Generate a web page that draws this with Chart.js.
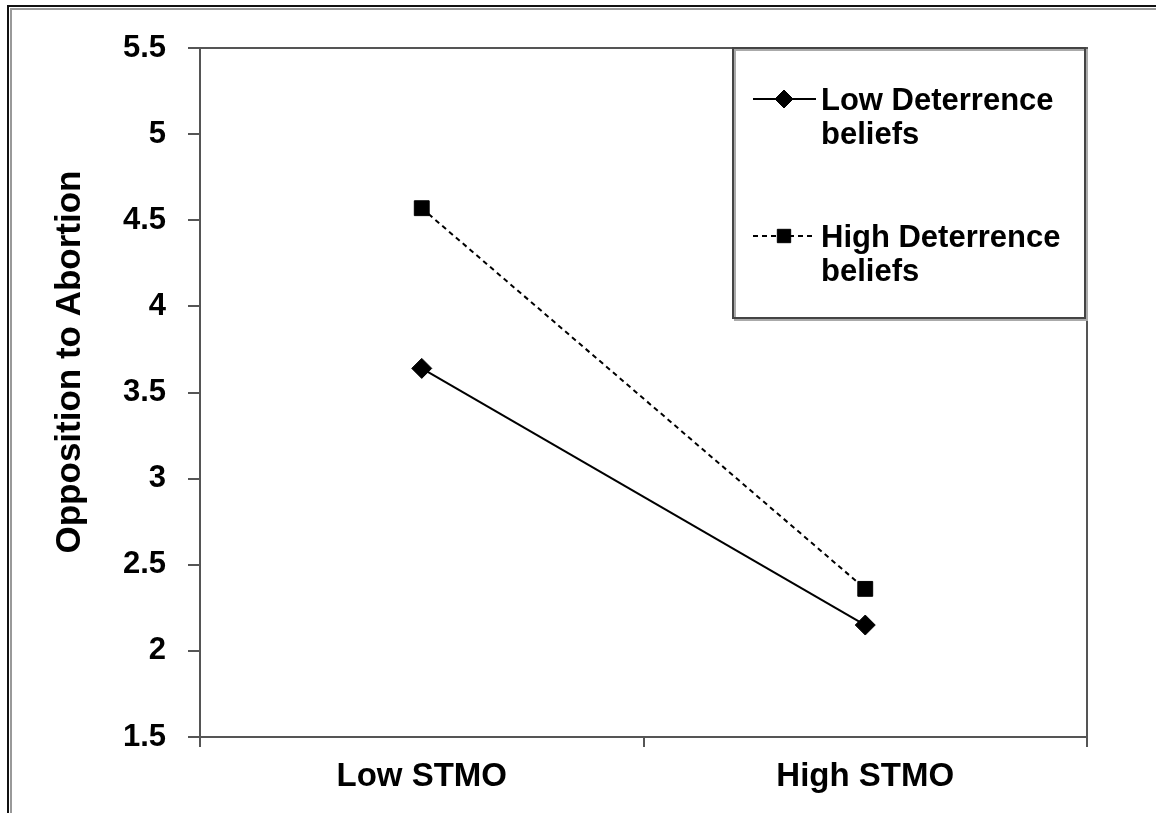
<!DOCTYPE html>
<html>
<head>
<meta charset="utf-8">
<script src="https://cdn.jsdelivr.net/npm/chart.js@4/dist/chart.umd.min.js"></script>
<style>
  html, body { margin: 0; padding: 0; background: #fff; }
  #wrap { width: 1156px; height: 813px; position: relative; }
</style>
</head>
<body>
<div id="wrap"><canvas id="chart" width="1156" height="813"></canvas></div>
<script>
const categories = ['Low STMO', 'High STMO'];
const lowDeterrence = [3.64, 2.15];
const highDeterrence = [4.57, 2.36];
const legendLines = [['Low Deterrence', 'beliefs'], ['High Deterrence', 'beliefs']];
const yTitle = 'Opposition to Abortion';
const yTicks = [1.5, 2, 2.5, 3, 3.5, 4, 4.5, 5, 5.5];

const font = 'Liberation Sans, Arial, sans-serif';

// frame round the whole figure, box round the plot area, rotated y title
const framePlugin = {
  id: 'frame',
  beforeDraw(chart) {
    const ctx = chart.ctx;
    ctx.save();
    ctx.strokeStyle = '#999';
    ctx.lineWidth = 2;
    ctx.beginPath();
    ctx.moveTo(11, 813); ctx.lineTo(11, 9); ctx.lineTo(1156, 9);
    ctx.stroke();
    ctx.strokeStyle = '#111';
    ctx.beginPath();
    ctx.moveTo(8, 813); ctx.lineTo(8, 6); ctx.lineTo(1156, 6);
    ctx.stroke();

    ctx.translate(70, 362);
    ctx.rotate(-Math.PI / 2);
    ctx.fillStyle = '#000';
    ctx.font = 'bold 35px ' + font;
    ctx.textAlign = 'center';
    ctx.textBaseline = 'middle';
    ctx.fillText(yTitle, 0, 0);
    ctx.restore();
  },
  afterDatasetsDraw(chart) {
    const a = chart.chartArea;
    const ctx = chart.ctx;
    ctx.save();
    ctx.strokeStyle = '#555';
    ctx.lineWidth = 2;
    ctx.beginPath();
    ctx.moveTo(a.left, a.top); ctx.lineTo(a.right, a.top); ctx.lineTo(a.right, a.bottom);
    ctx.stroke();
    ctx.restore();
  }
};

// legend box with two-line labels
const boxLegend = {
  id: 'boxLegend',
  afterDraw(chart) {
    const ctx = chart.ctx;
    const a = chart.chartArea;
    const x0 = 733, y0 = a.top, x1 = a.right - 2, y1 = 318;
    ctx.save();
    ctx.fillStyle = '#fff';
    ctx.fillRect(x0, y0, x1 - x0, y1 - y0);
    ctx.strokeStyle = '#aaa';
    ctx.lineWidth = 2;
    ctx.strokeRect(x0 + 2, y0 + 2, x1 - x0, y1 - y0);
    ctx.strokeStyle = '#444';
    ctx.strokeRect(x0, y0, x1 - x0, y1 - y0);
    const rows = [99, 236];
    chart.data.datasets.forEach((ds, i) => {
      const y = rows[i];
      ctx.strokeStyle = ds.borderColor;
      ctx.lineWidth = ds.borderWidth;
      ctx.setLineDash(ds.borderDash || []);
      ctx.beginPath();
      ctx.moveTo(753, y); ctx.lineTo(816, y);
      ctx.stroke();
      ctx.setLineDash([]);
      ctx.fillStyle = '#000';
      ctx.strokeStyle = '#000';
      ctx.lineWidth = 1;
      Chart.helpers.drawPoint(ctx, {
        pointStyle: ds.pointStyle, radius: ds.pointRadius * 0.9, borderWidth: 1, rotation: 0
      }, 784, y);
      ctx.font = 'bold 31px ' + font;
      ctx.textBaseline = 'middle';
      ctx.textAlign = 'left';
      legendLines[i].forEach((t, j) => ctx.fillText(t, 821, y + 2 + j * 34));
    });
    ctx.restore();
  }
};

new Chart(document.getElementById('chart'), {
  type: 'line',
  data: {
    labels: categories,
    datasets: [
      {
        label: 'Low Deterrence beliefs',
        data: lowDeterrence,
        borderColor: '#000', backgroundColor: '#000',
        borderWidth: 2, pointStyle: 'rectRot', pointRadius: 10,
        pointBorderWidth: 1, pointBorderColor: '#000', pointBackgroundColor: '#000'
      },
      {
        label: 'High Deterrence beliefs',
        data: highDeterrence,
        borderColor: '#000', backgroundColor: '#000',
        borderWidth: 2, borderDash: [5, 4], pointStyle: 'rect', pointRadius: 10.5,
        pointBorderWidth: 1, pointBorderColor: '#000', pointBackgroundColor: '#000'
      }
    ]
  },
  options: {
    responsive: false,
    animation: false,
    layout: { padding: { left: 0, top: 48, right: 69, bottom: 0 } },
    plugins: { legend: { display: false }, tooltip: { enabled: false } },
    scales: {
      x: {
        offset: true,
        grid: { offset: true, drawOnChartArea: false, color: '#555', lineWidth: 2, tickLength: 10 },
        border: { color: '#555', width: 2 },
        ticks: { color: '#000', font: { family: font, size: 33, weight: 'bold' }, padding: 10 },
        afterFit(s) { s.height = 76; }
      },
      y: {
        min: 1.5, max: 5.5,
        afterBuildTicks(s) { s.ticks = yTicks.map(v => ({ value: v })); },
        grid: { drawOnChartArea: false, color: '#555', lineWidth: 2, tickLength: 12 },
        border: { color: '#555', width: 2 },
        ticks: {
          color: '#000', font: { family: font, size: 31, weight: 'bold' }, padding: 22,
          callback: v => String(v)
        },
        afterFit(s) { s.width = 200; }
      }
    }
  },
  plugins: [framePlugin, boxLegend]
});
</script>
</body>
</html>
